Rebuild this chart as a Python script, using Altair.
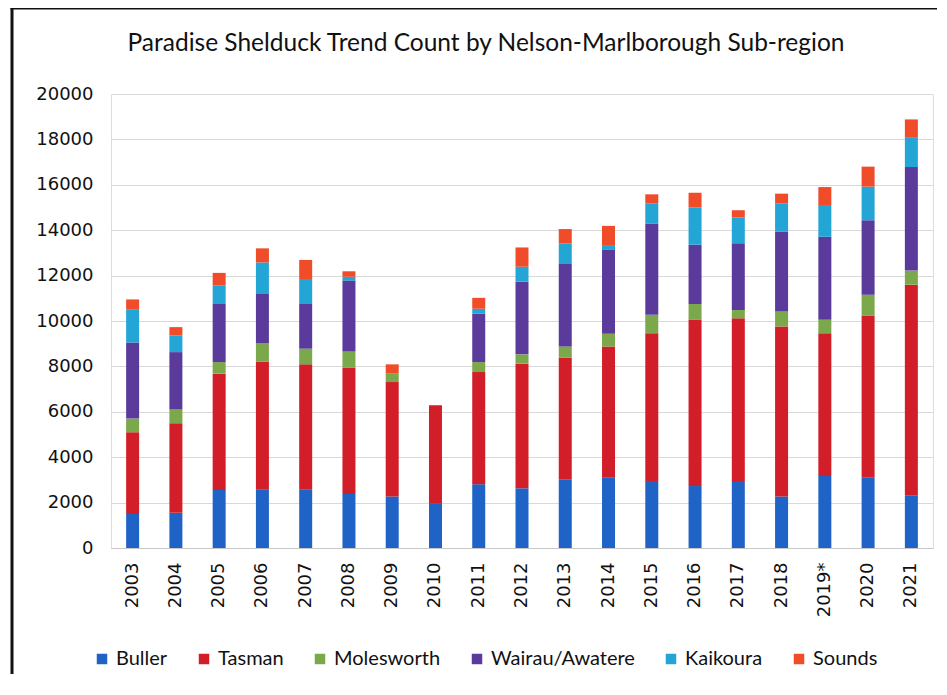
import altair as alt
import pandas as pd

years = ["2003", "2004", "2005", "2006", "2007", "2008", "2009", "2010", "2011", "2012",
         "2013", "2014", "2015", "2016", "2017", "2018", "2019*", "2020", "2021"]
regions = ["Buller", "Tasman", "Molesworth", "Wairau/Awatere", "Kaikoura", "Sounds"]
colors = ["#1f63c6", "#d21e28", "#7aa84a", "#5a3b9b", "#23a5d6", "#f04c2a"]

buller = [1500, 1550, 2560, 2590, 2590, 2380, 2270, 1980, 2810, 2630,
          3030, 3100, 2950, 2730, 2950, 2270, 3170, 3120, 2300]
tasman = [3600, 3950, 5120, 5630, 5500, 5570, 5040, 4310, 4940, 5490,
          5350, 5780, 6510, 7320, 7170, 7490, 6290, 7120, 9300]
molesworth = [600, 600, 510, 810, 690, 710, 370, 0, 440, 410,
              500, 560, 810, 700, 370, 660, 590, 920, 620]
wairau = [3350, 2530, 2590, 2190, 2000, 3120, 0, 0, 2130, 3200,
          3630, 3690, 4020, 2610, 2930, 3510, 3660, 3280, 4560]
kaikoura = [1470, 730, 780, 1360, 1070, 170, 0, 0, 220, 660,
            910, 180, 880, 1640, 1140, 1240, 1360, 1480, 1320]
sounds = [430, 370, 560, 620, 840, 240, 410, 0, 480, 850,
          630, 880, 410, 650, 320, 440, 830, 880, 780]

series = [buller, tasman, molesworth, wairau, kaikoura, sounds]
rows = []
for ri, (name, vals) in enumerate(zip(regions, series)):
    for y, v in zip(years, vals):
        rows.append({"Year": y, "Region": name, "Count": v, "idx": ri})
df = pd.DataFrame(rows)
frame_df = pd.DataFrame({"k": [0]})

bars = alt.Chart(df).mark_bar(size=13).encode(
    x=alt.X("Year:N", sort=years, title=None,
            scale=alt.Scale(paddingInner=0, paddingOuter=0),
            axis=alt.Axis(labelAngle=270, labelAlign="right", labelBaseline="middle",
                          labelPadding=14, ticks=False, domainColor="#c8c8c8",
                          labelFont="DejaVu Sans", labelFontSize=18, labelColor="#111111")),
    y=alt.Y("Count:Q", title=None, stack="zero",
            scale=alt.Scale(domain=[0, 20000]),
            axis=alt.Axis(values=list(range(0, 20001, 2000)), format="d", ticks=False,
                          domain=False, gridColor="#d9d9d9", labelPadding=18,
                          labelFont="DejaVu Sans", labelFontSize=18, labelColor="#111111")),
    color=alt.Color("Region:N", sort=regions,
                    scale=alt.Scale(domain=regions, range=colors),
                    legend=alt.Legend(title=None, orient="none", direction="horizontal",
                                      legendX=-19, legendY=555,
                                      symbolType="square", symbolSize=110,
                                      symbolStrokeWidth=0, labelFontSize=20,
                                      labelFont="Lato", labelColor="#111111",
                                      columnPadding=26, labelLimit=300)),
    order=alt.Order("idx:Q", sort="ascending"),
)

frame_left = alt.Chart(frame_df).mark_rect(color="#111111", clip=False, strokeWidth=0).encode(
    x=alt.value(-100.5), x2=alt.value(-97.5), y=alt.value(-87.5), y2=alt.value(580))
frame_top = alt.Chart(frame_df).mark_rect(color="#111111", clip=False, strokeWidth=0).encode(
    x=alt.value(-100.5), x2=alt.value(826), y=alt.value(-87.5), y2=alt.value(-84.5))

chart = alt.layer(bars, frame_left, frame_top).properties(
    width=822, height=454,
    padding={"left": 2, "top": -2, "right": 0, "bottom": 0},
    title=alt.Title("Paradise Shelduck Trend Count by Nelson-Marlborough Sub-region",
                    font="Lato", fontSize=24.5, fontWeight="normal",
                    color="#111111", offset=-50, anchor="middle", dx=-36),
).configure_view(stroke=None).configure(background="white")

chart.save("out.html", embed_options={"renderer": "svg", "actions": False})
